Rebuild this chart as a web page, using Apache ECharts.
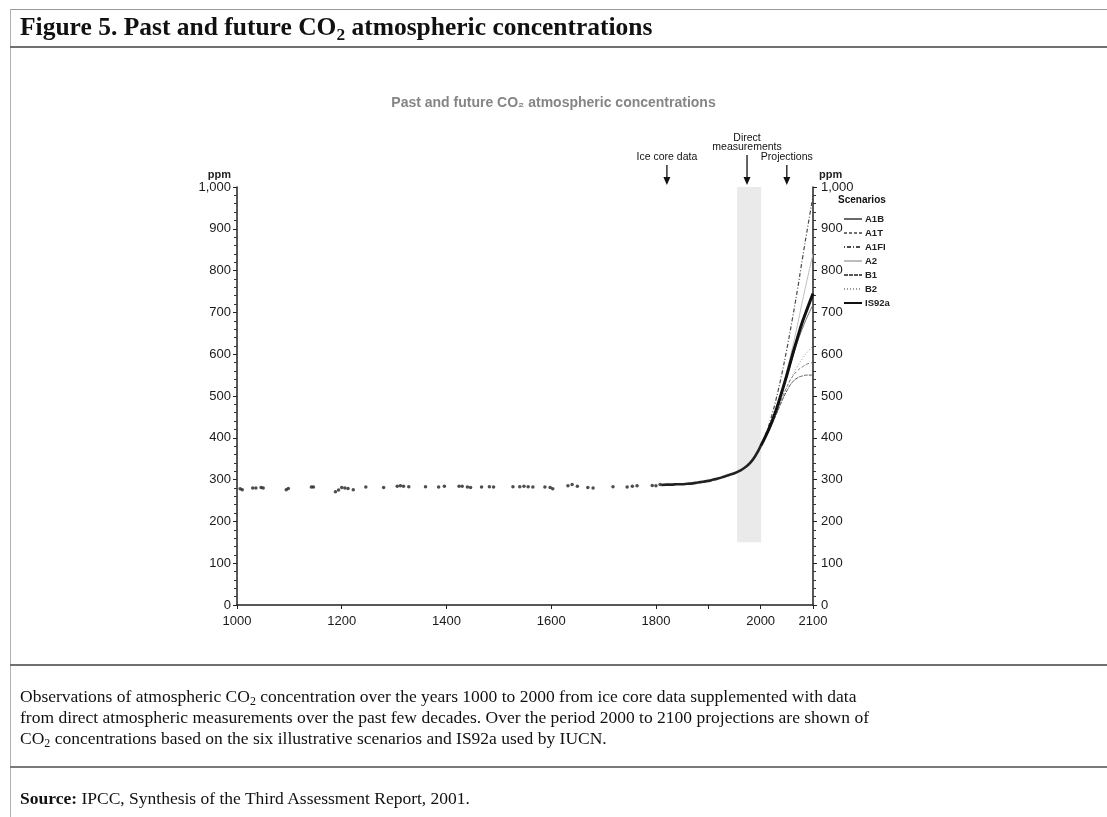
<!DOCTYPE html>
<html><head><meta charset="utf-8">
<script src="https://cdn.jsdelivr.net/npm/echarts@6/dist/echarts.min.js"></script>
<style>
html,body{margin:0;padding:0;background:#fff;width:1107px;height:817px;overflow:hidden;}
#chart{position:absolute;left:0;top:0;width:1107px;height:817px;}
.t{position:absolute;font-family:'Liberation Serif','Times New Roman',serif;color:#111;white-space:nowrap;}
.t sub{font-size:0.68em;vertical-align:-0.28em;line-height:0;}
.hl{position:absolute;}
</style></head><body>
<div id="chart"></div>
<div class="hl" style="left:10px;top:9px;width:1097px;height:1px;background:#9a9a9a"></div>
<div class="hl" style="left:10px;top:9px;width:1px;height:808px;background:#b0b0b0"></div>
<div class="hl" style="left:10px;top:46px;width:1097px;height:2px;background:#707070"></div>
<div class="t" style="left:20px;top:12px;font-size:25.5px;font-weight:bold;">Figure 5. Past and future CO<sub>2</sub> atmospheric concentrations</div>
<div class="hl" style="left:10px;top:664px;width:1097px;height:2px;background:#707070"></div>
<div class="t" style="left:20px;top:686px;font-size:17.5px;line-height:21px;">Observations of atmospheric CO<sub>2</sub> concentration over the years 1000 to 2000 from ice core data supplemented with data<br>from direct atmospheric measurements over the past few decades. Over the period 2000 to 2100 projections are shown of<br>CO<sub>2</sub> concentrations based on the six illustrative scenarios and IS92a used by IUCN.</div>
<div class="hl" style="left:10px;top:766px;width:1097px;height:2px;background:#7a7a7a"></div>
<div class="t" style="left:20px;top:788px;font-size:17.5px;"><b>Source:</b> IPCC, Synthesis of the Third Assessment Report, 2001.</div>
<script>
// ---- data ----
const iceYears = [1006,1010,1030,1036,1046,1050,1094,1098,1142,1146,1188,1194,1200,1206,1212,1222,1246,1280,1306,1312,1318,1328,1360,1385,1396,1424,1430,1440,1446,1467,1482,1490,1527,1540,1548,1556,1565,1588,1598,1603,1632,1640,1650,1670,1680,1718,1745,1755,1764,1793,1800,1808];
const icePpm   = [278,276,280,280,281,280,276,279,282,282,271,275,281,280,279,276,282,281,284,285,284,283,283,282,284,284,284,282,281,282,283,282,283,283,284,283,282,282,281,278,285,288,284,281,280,283,282,284,285,286,285,288];
const histYears = [1810,1820,1830,1840,1850,1860,1870,1880,1890,1900,1910,1920,1930,1940,1950,1960,1970,1980,1990,2000];
const histPpm   = [287,288,288,289,289,290,291,293,295,297,300,303,307,311,315,321,329,340,357,380];
const projYears = [2000,2010,2020,2030,2040,2050,2060,2070,2080,2090,2100];
const A1B   = [380,405,434,467,505,545,588,628,662,692,718];
const A1T   = [380,404,430,460,492,522,545,560,570,577,580];
const A1FI  = [380,410,448,495,550,612,680,752,830,905,978];
const A2    = [380,405,435,470,512,560,612,668,728,785,840];
const B1    = [380,403,428,456,486,512,532,543,548,550,550];
const B2    = [380,403,429,458,490,520,547,570,590,606,620];
const IS92a = [380,405,434,468,508,550,595,638,678,712,745];
const xTickValues = [1000,1200,1400,1600,1800,1900,2000,2100];
const xLabelValues = [1000,1200,1400,1600,1800,2000,2100];
const shadeYears = [1955,2001];
const annotations = [
  {lines:['Ice core data'], year:1821, len:20},
  {lines:['Direct','measurements'], year:1974, len:30},
  {lines:['Projections'], year:2050, len:20}
];

const zip = (a,b) => a.map((v,i)=>[v,b[i]]);
const axisFont = "'Liberation Sans Narrow','Arial Narrow','Liberation Sans',Arial,sans-serif";
const scen = [
  {name:'A1B', data:A1B, ls:{color:'#6a6a6a', width:1, type:'solid'}},
  {name:'A1T', data:A1T, ls:{color:'#707070', width:1, type:[3,2]}},
  {name:'A1FI', data:A1FI, ls:{color:'#4a4a4a', width:1.2, type:[1,2,4,2]}},
  {name:'A2', data:A2, ls:{color:'#bdbdbd', width:1, type:'solid'}},
  {name:'B1', data:B1, ls:{color:'#555', width:1, type:[4,1]}},
  {name:'B2', data:B2, ls:{color:'#9a9a9a', width:1, type:[1,2]}},
  {name:'IS92a', data:IS92a, ls:{color:'#111', width:3, type:'solid'}}
];

const chart = echarts.init(document.getElementById('chart'));
const yAxisBase = {
  type:'value', min:0, max:1000, interval:100,
  axisLine:{show:true, lineStyle:{color:'#222', width:1.5}},
  axisTick:{show:true, length:4, lineStyle:{color:'#222'}},
  minorTick:{show:true, splitNumber:5, length:3, lineStyle:{color:'#333'}},
  splitLine:{show:false},
  axisLabel:{fontFamily:axisFont, fontSize:13, color:'#1a1a1a', margin:6,
    formatter:v => v>=1000 ? '1,000' : String(v)},
  name:'ppm', nameLocation:'end', nameGap:6,
  nameTextStyle:{fontFamily:"'Liberation Sans',Arial,sans-serif", fontSize:11, fontWeight:'bold', color:'#222'}
};
const option = {
  animation:false,
  title:{text:'Past and future CO₂ atmospheric concentrations', left:'center', top:91,
    textStyle:{color:'#858585', fontSize:14, fontWeight:'bold', fontFamily:"'Liberation Sans',Arial,sans-serif"}},
  grid:{left:237, right:294, top:187, bottom:212},
  xAxis:{type:'value', min:1000, max:2100,
    axisLine:{show:true, onZero:false, lineStyle:{color:'#222', width:1.5}},
    axisTick:{show:true, length:4, customValues:xTickValues, lineStyle:{color:'#222'}},
    axisLabel:{customValues:xLabelValues, formatter:v => String(v), fontFamily:axisFont, fontSize:13, color:'#1a1a1a', margin:10},
    splitLine:{show:false}},
  yAxis:[
    Object.assign({}, yAxisBase, {position:'left',
      nameTextStyle:Object.assign({}, yAxisBase.nameTextStyle, {align:'right', padding:[0,6,0,0]})}),
    Object.assign({}, yAxisBase, {position:'right',
      axisLabel:Object.assign({}, yAxisBase.axisLabel, {margin:8}),
      nameTextStyle:Object.assign({}, yAxisBase.nameTextStyle, {align:'left', padding:[0,0,0,6]})})
  ],
  legend:{orient:'vertical', left:838, top:209, itemWidth:18, itemHeight:8, itemGap:4,
    data:scen.map(s=>s.name),
    itemStyle:{opacity:0},
    textStyle:{fontFamily:"'Liberation Sans',Arial,sans-serif", fontSize:9.5, fontWeight:'bold', color:'#222', padding:[0,0,0,-2]}},
  series:[
    {name:'ice', type:'scatter', data:zip(iceYears, icePpm), symbolSize:3.5,
      itemStyle:{color:'#222'}, z:5},
    {name:'direct', type:'line', data:zip(histYears, histPpm), symbol:'none', smooth:true,
      lineStyle:{color:'#222', width:2.6}, z:5,
      markArea:{silent:true, itemStyle:{color:'rgba(200,200,200,0.38)'},
        data:[[{xAxis:shadeYears[0], yAxis:150},{xAxis:shadeYears[1], yAxis:1000}]]}},
    ...scen.map(s=>({name:s.name, type:'line', data:zip(projYears, s.data), symbol:'none', smooth:true,
      lineStyle:s.ls, itemStyle:{color:s.ls.color}, z:s.name==='IS92a'?4:3}))
  ]
};
chart.setOption(option);

// annotations (positions from the axis scale)
const topPx = chart.convertToPixel({gridIndex:0}, [1000,1000])[1];
const gfx = [{type:'text', left:838, top:195,
  style:{text:'Scenarios', fontFamily:"'Liberation Sans',Arial,sans-serif", fontSize:10, fontWeight:'bold', fill:'#111'}}];
annotations.forEach(a=>{
  const x = chart.convertToPixel({gridIndex:0}, [a.year,1000])[0];
  const yEnd = topPx - 2, yStart = topPx - 2 - a.len;
  gfx.push({type:'line', shape:{x1:x, y1:yStart, x2:x, y2:yEnd-5}, style:{stroke:'#111', lineWidth:1.3}});
  gfx.push({type:'polygon', shape:{points:[[x-3.5,yEnd-8],[x+3.5,yEnd-8],[x,yEnd]]}, style:{fill:'#111'}});
  const n = a.lines.length;
  a.lines.forEach((t,i)=>{
    gfx.push({type:'text', x:x, y:yStart - 2 - (n-1-i)*9,
      style:{text:t, fontFamily:axisFont, fontSize:10.5, fill:'#111', align:'center', verticalAlign:'bottom'}});
  });
});
chart.setOption({graphic:gfx});
</script>
</body></html>
